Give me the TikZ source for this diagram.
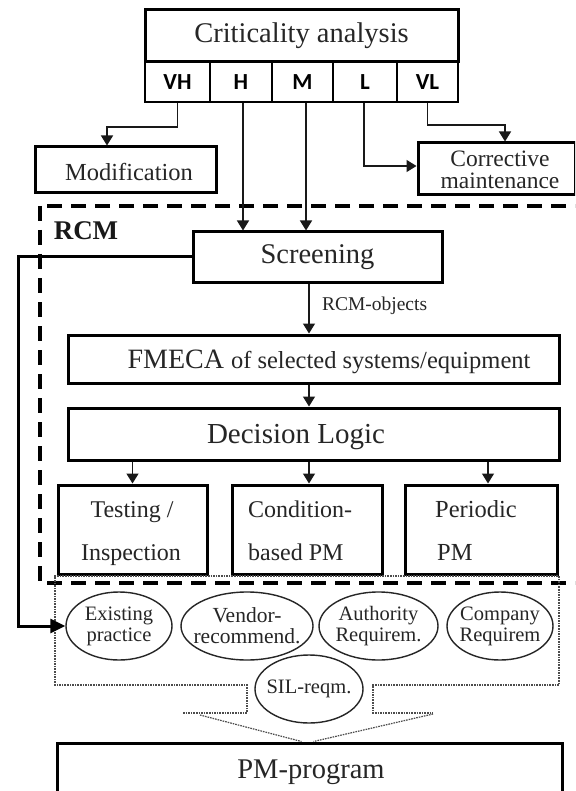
\documentclass[tikz,border=0pt]{standalone}
\usepackage{fontspec}
\setmainfont{Liberation Serif}
\newfontfamily\cellfont{Carlito}
\usetikzlibrary{shapes.geometric,arrows.meta}
\newcommand\setfs[2]{\fontsize{#1}{#2}\selectfont}
\begin{document}
\begin{tikzpicture}[x=1pt,y=-1pt,
  every node/.style={text=black!85},
  box/.style={draw=black, line width=3pt, inner sep=0pt},
  cell/.style={draw=black, line width=2.7pt, inner sep=0pt, font=\cellfont\bfseries\setfs{23}{24}, text=black},
  conn/.style={draw=black!90, line width=1.4pt, -{Triangle[length=10pt,width=12pt]}},
  feed/.style={draw=black, line width=3pt, -{Triangle[length=15pt,width=14pt]}},
  ell/.style={ellipse, draw=black!85, line width=1.4pt, inner xsep=-16pt, inner ysep=-6pt,
    align=center, font=\setfs{20.5}{21}},
  rcmframe/.style={draw=black, line width=4pt, dash pattern=on 15pt off 9pt},
  funnel/.style={draw=black!70, line width=1.2pt, dash pattern=on 1.6pt off 1pt},
  txt/.style={inner sep=0pt}
]
\useasboundingbox (0,0) rectangle (575,791);
\clip (0,0) rectangle (575,791);
\fill[white] (0,0) rectangle (575,791);

% RCM frame (runs off the right edge)
\draw[rcmframe] (40,206) rectangle (610,583);
\node[txt, font=\bfseries\setfs{27}{29}, text=black!90] (rcmlabel) at (86,231) {RCM};

% criticality analysis with its five classes
\node[box, minimum width=313pt, minimum height=52pt, font=\setfs{28.5}{30}] (crit) at (301.5,36) {Criticality analysis};
\node[cell, minimum width=65pt, minimum height=40pt] (vh) at (177.5,82) {VH};
\node[cell, minimum width=62pt, minimum height=40pt] (h)  at (241,82) {H};
\node[cell, minimum width=61pt, minimum height=40pt] (m)  at (302.5,82) {M};
\node[cell, minimum width=64pt, minimum height=40pt] (l)  at (365,82) {L};
\node[cell, minimum width=61pt, minimum height=40pt] (vl) at (427.5,82) {VL};

% outcomes outside RCM
\node[box, minimum width=181pt, minimum height=46pt] (mod) at (125.5,170) {};
\node[txt, font=\setfs{24.5}{26}] (modtext) at (129,172) {Modification};
\node[box, minimum width=157pt, minimum height=52pt] (corr) at (496.5,169) {};
\node[txt, align=center, font=\setfs{23.5}{22}] (corrtext) at (500,170) {Corrective\\maintenance};

% RCM chain
\node[box, minimum width=249pt, minimum height=50pt, font=\setfs{28.5}{30}] (scr) at (317.5,257) {Screening};
\node[box, minimum width=491pt, minimum height=48pt] (fmeca) at (313.5,359) {};
\node[txt] (fmecatext) at (329,362) {\setfs{28}{30}FMECA \setfs{24.5}{26}of selected systems/equipment};
\node[box, minimum width=491pt, minimum height=52pt] (dl) at (313.5,434) {};
\node[txt, font=\setfs{29}{31}] (dltext) at (296,437) {Decision Logic};

\node[box, minimum width=149pt, minimum height=89pt] (tb) at (132.5,529.5) {};
\node[box, minimum width=150pt, minimum height=89pt] (cb) at (307,529.5) {};
\node[box, minimum width=152pt, minimum height=89pt] (pb) at (481,529.5) {};
\node[txt, anchor=base, font=\setfs{24}{26}] (tb1) at (132,517) {Testing /};
\node[txt, anchor=base, font=\setfs{24}{26}] (tb2) at (131,560) {Inspection};
\node[txt, anchor=base west, font=\setfs{24}{26}] (cb1) at (248,517) {Condition-};
\node[txt, anchor=base west, font=\setfs{24}{26}] (cb2) at (248,560) {based PM};
\node[txt, anchor=base west, font=\setfs{24.5}{26}] (pb1) at (435,517) {Periodic};
\node[txt, anchor=base west, font=\setfs{24.5}{26}] (pb2) at (437,560) {PM};

% sources of PM tasks
\draw[funnel] (183,713) -- (247,713) -- (247,685) -- (55,685) -- (55,576)
  -- (559,576) -- (559,685) -- (373,685) -- (373,713) -- (433,713);
\node[ell, minimum width=106pt, minimum height=68pt] (ex) at (119,626) {Existing\\practice};
\node[ell, minimum width=132pt, minimum height=68pt, font=\setfs{21.5}{21}] (vd) at (247,626) {Vendor-\\recommend.};
\node[ell, minimum width=119pt, minimum height=68pt] (au) at (378.5,626) {Authority\\Requirem.};
\node[ell, minimum width=106pt, minimum height=68pt] (co) at (500,626) {Company\\Requirem};
\node[ell, minimum width=108pt, minimum height=68pt] (sil) at (309,689) {SIL-reqm.};

% PM program
\node[box, minimum width=505pt, minimum height=70pt] (pm) at (309.5,778) {};
\node[txt, font=\setfs{28.5}{30}] (pmtext) at (311,772) {PM-program};
\coordinate (fl) at (200,715);
\coordinate (fr) at (433,714);
\draw[funnel] (fl) -- ([xshift=-8pt]pm.north);
\draw[funnel] (fr) -- ([xshift=4pt]pm.north);

% connectors from the criticality classes
\coordinate (vhturn) at (107,127);
\coordinate (vlturn) at (505,125);
\draw[conn] (vh.south) |- (vhturn) -- (vhturn |- mod.north);
\draw[conn] ([xshift=2pt]h.south) -- ([xshift=2pt]h.south |- scr.north);
\draw[conn] ([xshift=3.5pt]m.south) -- ([xshift=3.5pt]m.south |- scr.north);
\draw[conn] ([xshift=-1pt]l.south) |- ([yshift=3pt]corr.west);
\draw[conn] (vl.south) |- (vlturn) -- (vlturn |- corr.north);

% connectors inside RCM
\draw[conn] ([xshift=-8.5pt]scr.south) -- ([xshift=-8.5pt]scr.south |- fmeca.north)
  node[pos=0.45, right=9pt, font=\setfs{19.5}{20}] (rcmobj) {RCM-objects};
\draw[conn] ([xshift=-4.5pt]fmeca.south) -- ([xshift=-4.5pt]fmeca.south |- dl.north);
\draw[conn] (dl.south -| tb.north) -- (tb.north);
\draw[conn] ([xshift=2pt]dl.south -| cb.north) -- ([xshift=2pt]cb.north);
\draw[conn] ([xshift=7pt]dl.south -| pb.north) -- ([xshift=7pt]pb.north);

% screened-out items go to existing practice
\coordinate (fb) at (18,257);
\draw[feed] (scr.west) -- (fb) |- (ex.west);
\end{tikzpicture}
\end{document}
